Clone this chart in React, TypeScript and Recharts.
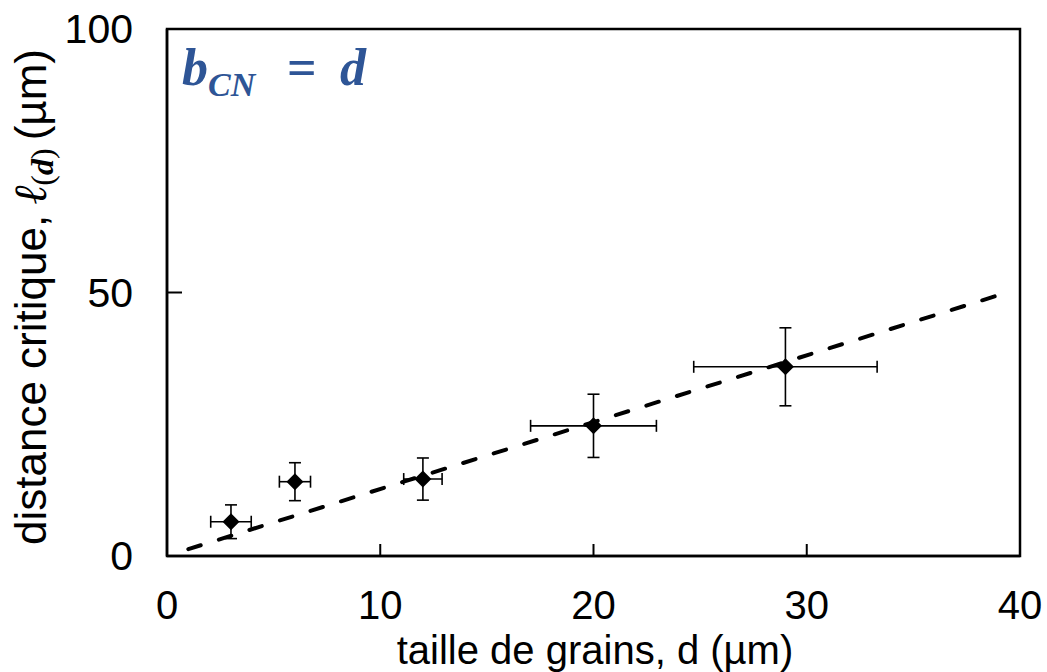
import React from 'react';
import {
  ScatterChart,
  Scatter,
  XAxis,
  YAxis,
  ErrorBar,
  ReferenceArea,
  Customized,
} from 'recharts';

// grain size d (µm) and critical distance ℓ(d) (µm), with error bars
const grainSize = [3, 6, 12, 20, 29];
const critDist = [6.5, 14.1, 14.6, 24.7, 35.9];
const grainErr = [0.95, 0.73, 0.9, 2.95, 4.3];
const critErr = [3.2, 3.6, 4, 6, 7.4];

// dashed trend line end points
const fitX = [1, 39];
const fitY = [1.3, 49.5];

const xTicks = [0, 10, 20, 30, 40];
const yTicks = [0, 50, 100];

const points = grainSize.map((x, i) => ({ x, y: critDist[i], ex: grainErr[i], ey: critErr[i] }));
const fitLine = fitX.map((x, i) => ({ x, y: fitY[i] }));

const FONT = '"Liberation Sans", Arial, sans-serif';
const SERIF = '"Liberation Serif", "Times New Roman", serif';
const BLUE = '#2E5596';

const Diamond = (props: any) => {
  const { cx, cy } = props;
  const r = 8.5;
  return (
    <polygon
      points={`${cx},${cy - r} ${cx + r},${cy} ${cx},${cy + r} ${cx - r},${cy}`}
      fill="#000"
    />
  );
};

const NoDot = () => <g />;

const XTick = (props: any) => {
  const { x, y, payload } = props;
  return (
    <g>
      <line x1={x} y1={y} x2={x} y2={y - 12} stroke="#000" strokeWidth={2} />
      <text x={x} y={y + 63} textAnchor="middle" fontSize={40} fontFamily={FONT} fill="#000">
        {payload.value}
      </text>
    </g>
  );
};

const YTick = (props: any) => {
  const { x, y, payload } = props;
  return (
    <g>
      <line x1={x} y1={y} x2={x + 15} y2={y} stroke="#000" strokeWidth={2} />
      <text x={x - 34} y={y + 14} textAnchor="end" fontSize={41} fontFamily={FONT} fill="#000">
        {payload.value}
      </text>
    </g>
  );
};

const Labels = () => (
  <g>
    <text x={595} y={664} textAnchor="middle" fontSize={40} fontFamily={FONT} fill="#000">
      taille de grains, d (µm)
    </text>
    <text transform="translate(46,545) rotate(-90)" fontSize={44} fontFamily={FONT} fill="#000">
      <tspan>distance critique,</tspan>
      <tspan dx={10} fontFamily={SERIF} fontStyle="italic" fontSize={46}>ℓ</tspan>
      <tspan dy={7} fontFamily={SERIF} fontSize={32}>(</tspan>
      <tspan fontFamily={SERIF} fontSize={32} fontWeight="bold" fontStyle="italic">d</tspan>
      <tspan fontFamily={SERIF} fontSize={32}>)</tspan>
      <tspan dy={-7} dx={8}>(µm)</tspan>
    </text>
    <text x={182} y={85} fill={BLUE} fontFamily={SERIF} fontWeight="bold" fontStyle="italic" fontSize={52}>
      <tspan>b</tspan>
      <tspan dy={11} fontSize={34}>CN</tspan>
      <tspan x={287} dy={-11} fontStyle="normal">=</tspan>
      <tspan x={340}>d</tspan>
    </text>
  </g>
);

export default function App() {
  return (
    <div style={{ position: 'absolute', left: 0, top: 0, background: '#fff' }}>
      <ScatterChart width={1047} height={672} margin={{ top: 29, right: 27, bottom: 0, left: 0 }}>
        <XAxis
          type="number"
          dataKey="x"
          domain={[0, 40]}
          ticks={xTicks}
          height={116}
          axisLine={{ stroke: '#000', strokeWidth: 2.5 }}
          tickLine={false}
          tickSize={0}
          tickMargin={0}
          tick={<XTick />}
          interval={0}
        />
        <YAxis
          type="number"
          dataKey="y"
          domain={[0, 100]}
          ticks={yTicks}
          width={167}
          axisLine={{ stroke: '#000', strokeWidth: 2.5 }}
          tickLine={false}
          tickSize={0}
          tickMargin={0}
          tick={<YTick />}
          interval={0}
        />
        <ReferenceArea x1={0} x2={40} y1={0} y2={100} fill="none" stroke="#000" strokeWidth={2.5} />
        <Scatter
          data={fitLine}
          line={{ stroke: '#000', strokeWidth: 4, strokeDasharray: '13 19', strokeLinecap: 'round' }}
          lineType="joint"
          shape={<NoDot />}
          isAnimationActive={false}
        />
        <Scatter data={points} shape={<Diamond />} isAnimationActive={false}>
          <ErrorBar dataKey="ex" direction="x" width={6} stroke="#000" strokeWidth={1.6} />
          <ErrorBar dataKey="ey" direction="y" width={6} stroke="#000" strokeWidth={1.6} />
        </Scatter>
        <Customized component={Labels} />
      </ScatterChart>
    </div>
  );
}
